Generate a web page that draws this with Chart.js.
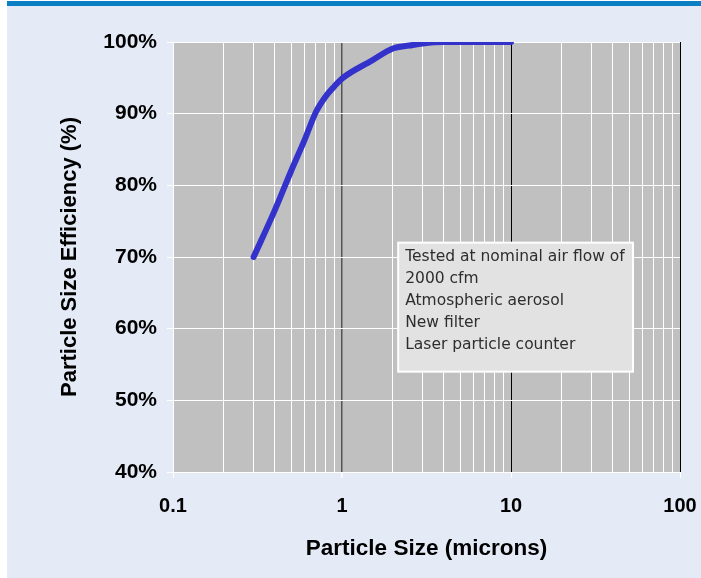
<!DOCTYPE html>
<html>
<head>
<meta charset="utf-8">
<script src="https://cdn.jsdelivr.net/npm/chart.js@4.4.1/dist/chart.umd.min.js"></script>
<style>
    html, body { margin: 0; padding: 0; background: #ffffff; }
    #wrap {
        position: absolute;
        left: 7px;
        top: 1px;
        width: 694px;
        height: 572px;
        border-top: 5px solid #0b7fc4;
        background: #e4ebf6;
    }
</style>
</head>
<body>
<div id="wrap"><canvas id="chart"></canvas></div>
<script>
// Данные кривой эффективности
const sizes = [0.3, 0.4, 0.5, 0.6, 0.7, 0.8, 0.9, 1, 1.5, 2, 2.5, 3, 4, 10];
const efficiency = [70, 76.5, 82, 86.3, 90.2, 92.4, 93.8, 94.9, 97.4, 99.1, 99.5, 99.8, 100, 100];

// Деления осей
const xTicks = [0.1, 0.2, 0.3, 0.4, 0.5, 0.6, 0.7, 0.8, 0.9,
                1, 2, 3, 4, 5, 6, 7, 8, 9,
                10, 20, 30, 40, 50, 60, 70, 80, 90, 100];
const xLabels = [0.1, 1, 10, 100];
const yTicks = [40, 50, 60, 70, 80, 90, 100];

// Текст в рамке
const noteLines = [
    'Tested at nominal air flow of',
    '2000 cfm',
    'Atmospheric aerosol',
    'New filter',
    'Laser particle counter'
];
const noteBox = { x1: 2.15, x2: 52.7, y1: 72, y2: 54 };

// Серый фон области графика
const plotBackground = {
    id: 'plotBackground',
    beforeDraw(chart) {
        const { ctx, chartArea } = chart;
        ctx.save();
        ctx.fillStyle = '#c0c0c0';
        ctx.fillRect(chartArea.left, chartArea.top, chartArea.width, chartArea.height);
        ctx.restore();
    }
};

// Рамка с условиями испытания
const notePlugin = {
    id: 'notePlugin',
    afterDatasetsDraw(chart) {
        const { ctx, scales } = chart;
        const left = scales.x.getPixelForValue(noteBox.x1);
        const right = scales.x.getPixelForValue(noteBox.x2);
        const top = scales.y.getPixelForValue(noteBox.y1);
        const bottom = scales.y.getPixelForValue(noteBox.y2);
        ctx.save();
        ctx.fillStyle = '#e2e2e2';
        ctx.fillRect(left, top, right - left, bottom - top);
        ctx.strokeStyle = '#ffffff';
        ctx.lineWidth = 2;
        ctx.strokeRect(left, top, right - left, bottom - top);
        ctx.fillStyle = '#2e2e2e';
        ctx.font = '15.5px "DejaVu Sans"';
        ctx.textBaseline = 'middle';
        noteLines.forEach((line, i) => {
            ctx.fillText(line, left + 7, top + 14 + i * 22);
        });
        ctx.restore();
    }
};

function gridColor(ctx) {
    const v = ctx.tick ? ctx.tick.value : null;
    if (v === 1) return '#555555';
    if (v === 10 || v === 100) return '#000000';
    return '#ffffff';
}

new Chart(document.getElementById('chart'), {
    type: 'line',
    data: {
        datasets: [{
            label: 'Particle Size Efficiency',
            data: sizes.map((s, i) => ({ x: s, y: efficiency[i] })),
            borderColor: '#3333cc',
            borderWidth: 6,
            borderCapStyle: 'round',
            borderJoinStyle: 'round',
            pointRadius: 0,
            cubicInterpolationMode: 'monotone',
            fill: false
        }]
    },
    options: {
        responsive: true,
        maintainAspectRatio: false,
        animation: false,
        layout: { padding: { left: 0, right: 21, top: 36, bottom: 0 } },
        plugins: {
            legend: { display: false },
            tooltip: { enabled: false }
        },
        scales: {
            x: {
                type: 'logarithmic',
                min: 0.1,
                max: 100,
                afterBuildTicks: scale => {
                    scale.ticks = xTicks.map(v => ({ value: v }));
                },
                afterFit: scale => {
                    scale.height = 106;
                    // подписи не должны сжимать область графика
                    scale.paddingLeft = 0;
                    scale.paddingRight = 0;
                },
                grid: {
                    color: gridColor,
                    lineWidth: ctx => (ctx.tick && ctx.tick.value === 1 ? 1.5 : 1),
                    tickColor: ctx => (ctx.tick && xLabels.includes(ctx.tick.value) ? '#ffffff' : 'rgba(0,0,0,0)'),
                    tickLength: 6
                },
                border: { color: '#ffffff' },
                ticks: {
                    autoSkip: false,
                    maxRotation: 0,
                    padding: 16,
                    color: '#000000',
                    font: { family: '"Liberation Sans", Arial', size: 20, weight: 'bold' },
                    callback: value => (xLabels.includes(value) ? String(value) : '')
                },
                title: {
                    display: true,
                    text: 'Particle Size (microns)',
                    color: '#000000',
                    font: { family: '"Liberation Sans", Arial', size: 22.5, weight: 'bold' },
                    padding: { top: 0, bottom: 16 }
                }
            },
            y: {
                min: 40,
                max: 100,
                afterBuildTicks: scale => {
                    scale.ticks = yTicks.map(v => ({ value: v }));
                },
                afterFit: scale => { scale.width = 166; },
                grid: {
                    color: '#ffffff',
                    tickColor: '#ffffff',
                    tickLength: 6
                },
                border: { color: '#ffffff' },
                ticks: {
                    padding: 10,
                    color: '#000000',
                    font: { family: '"Liberation Sans", Arial', size: 21, weight: 'bold' },
                    callback: value => value + '%'
                },
                title: {
                    display: true,
                    text: 'Particle Size Efficiency (%)',
                    color: '#000000',
                    font: { family: '"Liberation Sans", Arial', size: 22, weight: 'bold' },
                    padding: { top: 50, bottom: 0 }
                }
            }
        }
    },
    plugins: [plotBackground, notePlugin]
});
</script>
</body>
</html>
